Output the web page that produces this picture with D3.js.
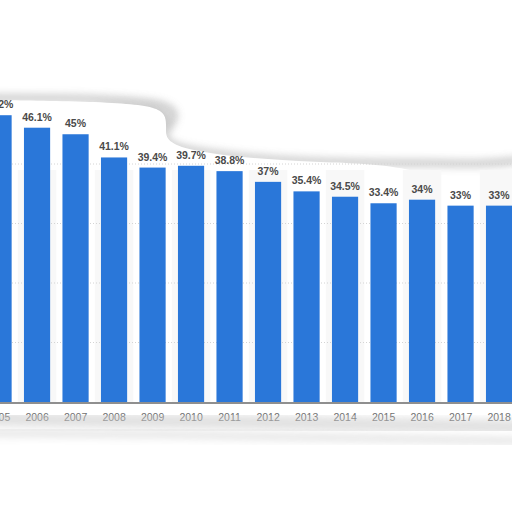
<!DOCTYPE html>
<html>
<head>
<meta charset="utf-8">
<script src="https://cdn.jsdelivr.net/npm/d3@7"></script>
<style>
  body { margin: 0; background: #fff; }
  svg { display: block; }
</style>
</head>
<body>
<svg id="chart" width="512" height="512"></svg>
<script>
'use strict';
// share per year (2005 is cut at the left edge)
const years = ['2005', '2006', '2007', '2008', '2009', '2010', '2011', '2012', '2013', '2014', '2015', '2016', '2017', '2018'];
const shares = [48.2, 46.1, 45, 41.1, 39.4, 39.7, 38.8, 37, 35.4, 34.5, 33.4, 34, 33, 33];
const labels = ['48.2%', '46.1%', '45%', '41.1%', '39.4%', '39.7%', '38.8%', '37%', '35.4%', '34.5%', '33.4%', '34%', '33%', '33%'];
const gridTicks = [10, 20, 30, 40];

const svg = d3.select('#chart');
const defs = svg.append('defs');

defs.append('filter').attr('id', 'blur')
  .attr('x', '-20%').attr('y', '-50%').attr('width', '140%').attr('height', '200%')
  .append('feGaussianBlur').attr('stdDeviation', 4);

const x = d3.scaleBand()
  .domain(years)
  .range([-20.7, 518.3])
  .paddingInner(0.32)
  .paddingOuter(0.16);

const y = d3.scaleLinear()
  .domain([0, 50])
  .range([402, 104.5]);

// torn paper shadow along the top
const line = d3.line().curve(d3.curveBasis);
svg.append('path')
  .attr('d', line([[-10, 98], [60, 98], [120, 100], [170, 104], [178, 118], [160, 134], [170, 148], [230, 156], [300, 162], [420, 163], [490, 164], [520, 160]]))
  .attr('fill', 'none')
  .attr('stroke', '#9a9a9a')
  .attr('stroke-width', 5)
  .attr('opacity', 0.75)
  .attr('filter', 'url(#blur)');
svg.append('path')
  .attr('d', line([[95, 106], [150, 104], [174, 114], [164, 134], [120, 142], [98, 124]]))
  .attr('fill', '#a8a8a8')
  .attr('opacity', 0.75)
  .attr('filter', 'url(#blur)');

// paper area
const paper = svg.append('g');
paper.append('path')
  .attr('d', line([[-10, 100], [120, 102], [168, 108], [165, 130], [168, 150], [300, 164], [520, 164], [520, 432], [-10, 428]]) + 'Z')
  .attr('fill', '#fff');

// faint column stripes
paper.selectAll('rect.stripe')
  .data(years.filter((d, i) => i % 2 === 1))
  .join('rect')
  .attr('class', 'stripe')
  .attr('x', d => x(d) - x.step() * 0.16)
  .attr('width', x.step())
  .attr('y', 170)
  .attr('height', 232)
  .attr('fill', '#f8f8f8');

// gridlines
paper.selectAll('line.grid')
  .data(gridTicks)
  .join('line')
  .attr('class', 'grid')
  .attr('x1', 0).attr('x2', 512)
  .attr('y1', d => y(d)).attr('y2', d => y(d))
  .attr('stroke', '#d4d4d4')
  .attr('stroke-dasharray', '1,2');

// bars
paper.selectAll('rect.bar')
  .data(years)
  .join('rect')
  .attr('class', 'bar')
  .attr('x', d => x(d))
  .attr('width', x.bandwidth())
  .attr('y', (d, i) => y(shares[i]))
  .attr('height', (d, i) => y(0) - y(shares[i]))
  .attr('fill', '#2a77d9');

// value labels
paper.selectAll('text.val')
  .data(years)
  .join('text')
  .attr('class', 'val')
  .attr('x', d => x(d) + x.bandwidth() / 2)
  .attr('y', (d, i) => y(shares[i]) - 7)
  .attr('text-anchor', 'middle')
  .attr('font-family', 'Liberation Sans, Arial, sans-serif')
  .attr('font-weight', 'bold')
  .attr('font-size', 10.5)
  .attr('fill', '#4a4a4a')
  .text((d, i) => labels[i]);

// x axis
const xAxis = paper.append('g')
  .attr('transform', `translate(0,${y(0) + 1})`)
  .call(d3.axisBottom(x).tickSize(0).tickPadding(11));
xAxis.select('.domain').attr('stroke', '#6a6a6a').attr('stroke-width', 1.5).attr('d', 'M-10,0H520');
xAxis.selectAll('text')
  .attr('font-family', 'Liberation Sans, Arial, sans-serif')
  .attr('font-size', 10.5)
  .attr('fill', '#707070');

// shadow along the bottom edge, fading the left labels
svg.append('path')
  .attr('d', line([[-10, 419], [120, 421], [250, 422], [400, 425], [520, 427]]))
  .attr('fill', 'none')
  .attr('stroke', '#c8c8c8')
  .attr('stroke-width', 14)
  .attr('opacity', 0.55)
  .attr('filter', 'url(#blur)');
svg.append('path')
  .attr('d', line([[-10, 433], [150, 434], [300, 437], [520, 441]]))
  .attr('fill', 'none')
  .attr('stroke', '#b0b0b0')
  .attr('stroke-width', 4)
  .attr('opacity', 0.6)
  .attr('filter', 'url(#blur)');
</script>
</body>
</html>
